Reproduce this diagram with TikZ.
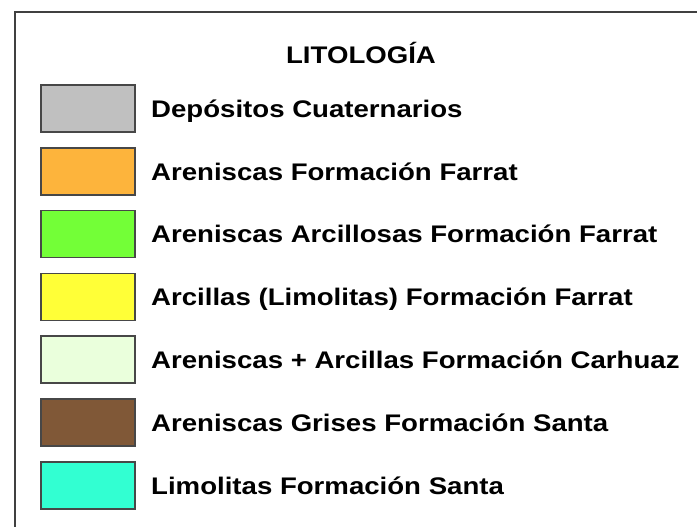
\documentclass[tikz,border=0pt]{standalone}
\usepackage{fontspec}
\setmainfont{Liberation Sans}[FakeStretch=1.15]
\definecolor{cuat}{RGB}{192,192,192}
\definecolor{farrat}{RGB}{253,180,60}
\definecolor{arcfarrat}{RGB}{115,255,55}
\definecolor{limfarrat}{RGB}{255,255,55}
\definecolor{carhuaz}{RGB}{234,255,220}
\definecolor{grises}{RGB}{128,88,55}
\definecolor{santa}{RGB}{50,255,210}

\begin{document}
\begin{tikzpicture}[x=1pt,y=-1pt,
 swatch/.style={draw=black!72,line width=1.5pt,minimum width=94pt,minimum height=47pt,inner sep=0pt},
 legendtext/.style={anchor=base west,inner sep=0pt,font=\bfseries\fontsize{24}{28}\selectfont}]
 \useasboundingbox (0,0) rectangle (697,527);
 % frame
 \draw[black!75,line width=1.6pt] (15,527) -- (15,12) -- (697,12);
 \node[anchor=base,inner sep=0pt,font=\bfseries\fontsize{24}{28}\selectfont] (title) at (361,63.6) {LITOLOGÍA};
 % legend rows
 \foreach \c/\t [count=\i] in {cuat/Depósitos Cuaternarios,farrat/Areniscas Formación Farrat,arcfarrat/Areniscas Arcillosas Formación Farrat,limfarrat/Arcillas (Limolitas) Formación Farrat,carhuaz/Areniscas + Arcillas Formación Carhuaz,grises/Areniscas Grises Formación Santa,santa/Limolitas Formación Santa}
 {
  \node[swatch,fill=\c] (sw\i) at (88,{108.5+62.8*(\i-1)}) {};
  \node[legendtext] (lb\i) at (151,{117.3+62.8*(\i-1)}) {\t};
 }
\end{tikzpicture}
\end{document}
